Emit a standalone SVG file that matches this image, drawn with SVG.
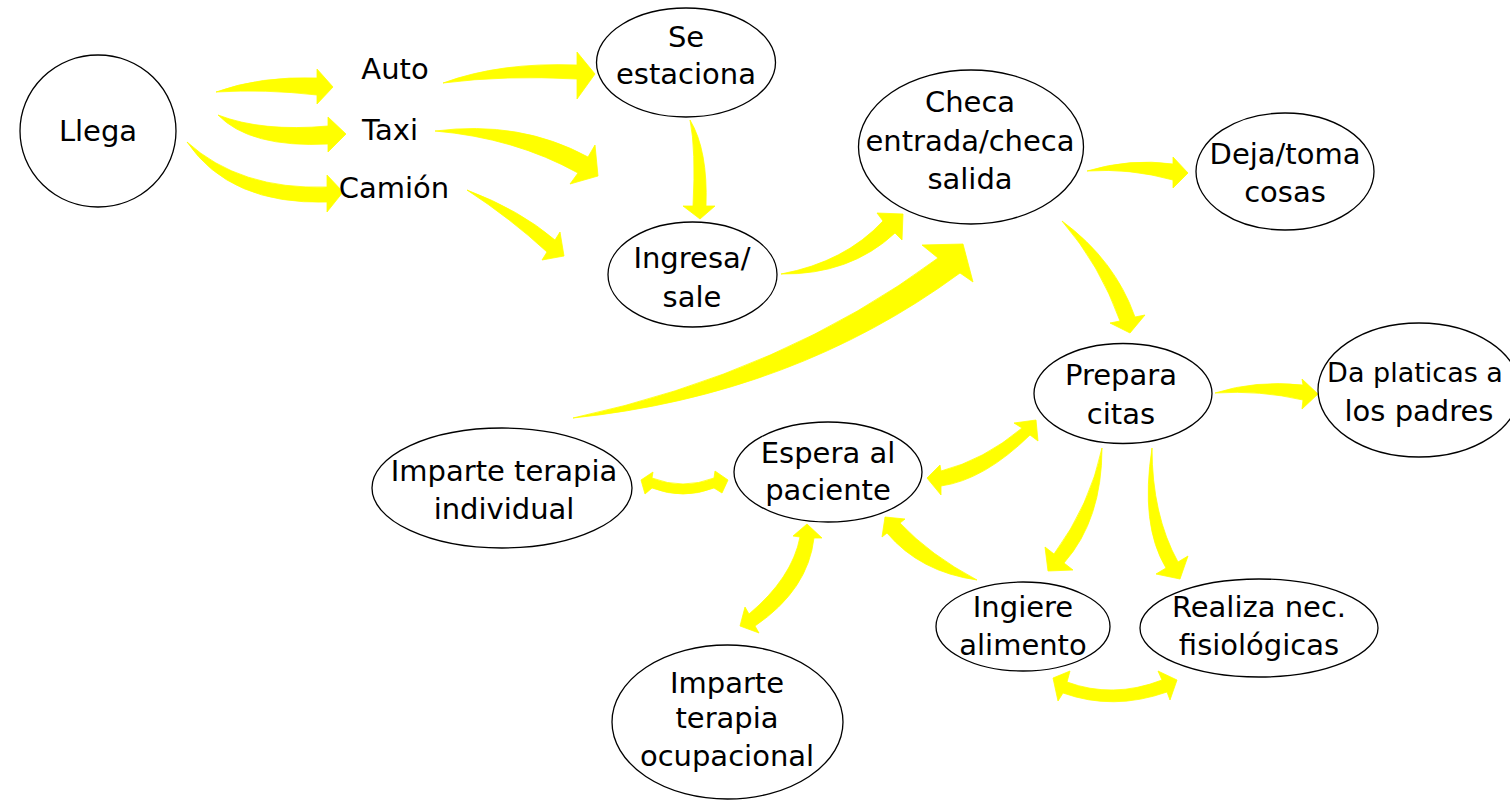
<svg xmlns="http://www.w3.org/2000/svg" width="1510" height="802" viewBox="0 0 1510 802">
<style>
.n ellipse{fill:#fff;stroke:#000;stroke-width:1.3}
text{font-family:"DejaVu Sans","Noto Sans",sans-serif;font-size:29px;fill:#000;text-anchor:middle}
.c path{fill:#ffff00;stroke:#ffff00;stroke-width:0.8;stroke-linejoin:round}
</style>
<rect width="1510" height="802" fill="#fff"/>
<g id="connectors" class="c">
<path d="M216,92 Q260,76 317,78 L317,69 L333,87 L317,104 L317,95 Q265,89 216,92 Z"/>
<path d="M218,115 Q262,132 328,126 L328,117 L346,134 L328,152 L328,144 Q250,148 218,115 Z"/>
<path d="M187,142 Q240,190 327,187 L327,175 L343,192 L327,212 L327,202 Q230,205 187,142 Z"/>
<path d="M443,83 Q500,62 577,65 L577,52 L595,74 L577,99 L577,79 Q505,75 443,83 Z"/>
<path d="M435,131 Q520,120 588,157 L595,145 L598,176 L570,184 L578,173 Q515,138 435,131 Z"/>
<path d="M467,190 Q520,210 555,240 L560,232 L564,256 L542,260 L547,252 Q510,218 467,190 Z"/>
<path d="M690,120 Q708,150 706,206 L715,206 L700,219 L683,206 L693,206 Q696,150 690,120 Z"/>
<path d="M781,274 Q845,262 883,221 L877,213 L903,214 L902,240 L895,233 Q850,275 781,274 Z"/>
<path d="M573,418 Q785,372 938,258 L922,245 L963,244 L973,282 L960,273 Q794,395 573,418 Z"/>
<path d="M1087,171 Q1130,158 1173,164 L1173,157 L1188,173 L1173,188 L1173,180 Q1130,168 1087,171 Z"/>
<path d="M1062,221 Q1115,260 1135,317 L1145,315 L1130,333 L1110,323 L1120,321 Q1100,265 1062,221 Z"/>
<path d="M1215,393 Q1255,380 1303,385 L1302,379 L1318,394 L1302,409 L1303,400 Q1260,390 1215,393 Z"/>
<path d="M927,478 L940,465 L941,471 Q984,460 1022,428 L1014,423 L1036,420 L1038,441 L1030,435 Q984,480 941,486 L941,495 Z"/>
<path d="M641,480 L653,472 L652,478 Q683,490 714,478 L715,471 L728,480 L722,493 L714,488 Q683,500 652,488 L645,494 Z"/>
<path d="M807,524 L822,538 L814,538 Q808,590 755,626 L759,633 L740,626 L745,607 L749,614 Q792,578 800,537 L793,536 Z"/>
<path d="M977,580 Q930,555 900,523 L905,519 L885,517 L882,537 L887,533 Q920,572 977,580 Z"/>
<path d="M1102,448 Q1102,520 1064,563 L1073,570 L1048,571 L1045,547 L1054,554 Q1090,505 1102,448 Z"/>
<path d="M1152,448 Q1140,525 1166,568 L1156,574 L1180,579 L1188,556 L1178,562 Q1152,515 1152,448 Z"/>
<path d="M1053,678 L1070,671 L1067,682 Q1113,699 1162,680 L1158,671 L1177,680 L1170,700 L1167,692 Q1113,711 1063,693 L1058,701 Z"/>
</g>
<g id="llega" class="n"><ellipse cx="98" cy="131" rx="78" ry="76"/><text x="98" y="141">Llega</text></g>
<g id="auto"><text x="395" y="79">Auto</text></g>
<g id="taxi"><text x="390" y="140">Taxi</text></g>
<g id="camion"><text x="394" y="198">Camión</text></g>
<g id="se-estaciona" class="n"><ellipse cx="686" cy="62.5" rx="89.5" ry="54.5"/><text x="686" y="47">Se</text><text x="686" y="84">estaciona</text></g>
<g id="checa" class="n"><ellipse cx="971" cy="147" rx="112.5" ry="77"/><text x="970" y="112">Checa</text><text x="970" y="151">entrada/checa</text><text x="970" y="189">salida</text></g>
<g id="deja" class="n"><ellipse cx="1285" cy="171.5" rx="89" ry="58.5"/><text x="1285" y="164">Deja/toma</text><text x="1285" y="202">cosas</text></g>
<g id="ingresa" class="n"><ellipse cx="692.5" cy="274.5" rx="84.5" ry="52.5"/><text x="692" y="268">Ingresa/</text><text x="692" y="307">sale</text></g>
<g id="prepara" class="n"><ellipse cx="1123" cy="393.5" rx="89" ry="50"/><text x="1121" y="385">Prepara</text><text x="1121" y="424">citas</text></g>
<g id="platicas" class="n"><ellipse cx="1419" cy="390" rx="101" ry="67"/><text x="1415" y="382" style="font-size:27px">Da platicas a</text><text x="1419" y="421">los padres</text></g>
<g id="individual" class="n"><ellipse cx="502" cy="488" rx="130" ry="60"/><text x="504" y="481">Imparte terapia</text><text x="504" y="519">individual</text></g>
<g id="espera" class="n"><ellipse cx="828" cy="472" rx="94" ry="50"/><text x="828" y="463">Espera al</text><text x="828" y="500">paciente</text></g>
<g id="ingiere" class="n"><ellipse cx="1023" cy="626.5" rx="87" ry="44.5"/><text x="1023" y="617">Ingiere</text><text x="1023" y="655">alimento</text></g>
<g id="realiza" class="n"><ellipse cx="1259" cy="628" rx="119" ry="49"/><text x="1259" y="617">Realiza nec.</text><text x="1259" y="655">fisiológicas</text></g>
<g id="ocupacional" class="n"><ellipse cx="727.5" cy="722" rx="115.5" ry="77"/><text x="727" y="693">Imparte</text><text x="727" y="728">terapia</text><text x="727" y="766">ocupacional</text></g>
</svg>
